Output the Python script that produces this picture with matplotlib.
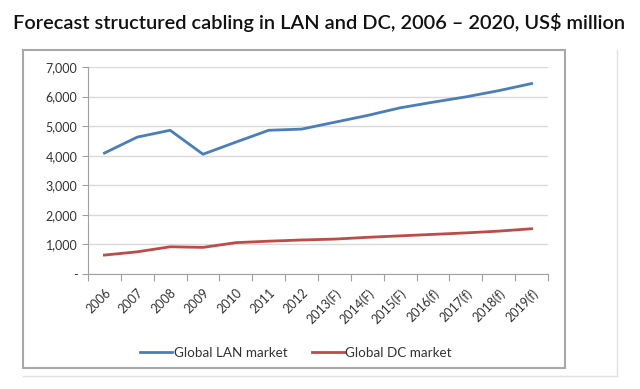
import matplotlib
matplotlib.use("Agg")
import matplotlib.pyplot as plt
from matplotlib.lines import Line2D
from matplotlib.ticker import FuncFormatter

plt.rcParams["font.family"] = ["Lato", "DejaVu Sans"]

years = ["2006", "2007", "2008", "2009", "2010", "2011", "2012",
         "2013(F)", "2014(F)", "2015(F)", "2016(f)", "2017(f)", "2018(f)", "2019(f)"]
lan = [4090, 4630, 4860, 4050, 4460, 4860, 4900, 5130, 5360, 5620, 5810, 5990, 6200, 6440]
dc = [640, 750, 920, 900, 1060, 1110, 1150, 1180, 1240, 1290, 1340, 1390, 1450, 1530]

BLUE = "#4A7EBB"
RED = "#BE4B48"

fig = plt.figure(figsize=(6.4, 3.89), dpi=100)
ax = fig.add_axes([88 / 640, 1 - 274 / 389, 460 / 640, 207 / 389])

xs = range(len(years))
ax.plot(xs, lan, color=BLUE, lw=2, solid_joinstyle="round", label="Global LAN market")
ax.plot(xs, dc, color=RED, lw=2, solid_joinstyle="round", label="Global DC market")

ax.set_xlim(-0.5, len(years) - 0.5)
ax.set_ylim(0, 7000)
ax.set_yticks(range(0, 7001, 1000))
ax.yaxis.set_major_formatter(FuncFormatter(lambda v, p: "-" if v == 0 else f"{int(v):,}"))
ax.grid(axis="y", color="#D9D9D9", lw=1)
ax.set_axisbelow(True)

# category ticks between labels, like excel
ax.set_xticks([i - 0.5 for i in range(len(years) + 1)])
ax.set_xticklabels([])
ax.set_xticks(list(xs), minor=True)
ax.set_xticklabels(years, minor=True, rotation=45, ha="right", va="top",
                   rotation_mode="anchor", fontsize=9, color="#333333")
ax.tick_params(axis="x", which="minor", length=0, pad=9)
ax.tick_params(axis="x", which="major", length=5, color="#A0A0A0")
ax.tick_params(axis="y", length=4, color="#A0A0A0", labelsize=9, labelcolor="#333333")

for s in ["top", "right"]:
    ax.spines[s].set_visible(False)
for s in ["left", "bottom"]:
    ax.spines[s].set_color("#A0A0A0")

# legend
handles = [Line2D([], [], color=BLUE, lw=2), Line2D([], [], color=RED, lw=2)]
fig.legend(handles, ["Global LAN market", "Global DC market"], loc="center left",
           bbox_to_anchor=(140 / 640, 1 - 353 / 389), ncol=2, frameon=False,
           borderpad=0, borderaxespad=0, fontsize=9.7, handlelength=2.4,
           handletextpad=0.1, columnspacing=1.8, labelcolor="#333333")

# chart frames
inner = plt.Rectangle((23 / 640, 1 - 368 / 389), (565 - 23) / 640, (368 - 50) / 389,
                      transform=fig.transFigure, fill=False, ec="#A8A8A8", lw=1.5)
fig.add_artist(inner)
fig.add_artist(Line2D([617 / 640, 617 / 640], [1 - 376 / 389, 1 - 50 / 389],
                      transform=fig.transFigure, color="#E0E0E0", lw=1))
fig.add_artist(Line2D([23 / 640, 617 / 640], [1 - 376 / 389, 1 - 376 / 389],
                      transform=fig.transFigure, color="#E0E0E0", lw=1))

fig.text(319 / 640, 1 - 22 / 389,
         "Forecast structured cabling in LAN and DC, 2006 \u2013 2020, US$ million",
         ha="center", va="center", fontsize=14.4, fontweight="semibold", color="#111111")

fig.savefig("out.png", dpi=100)
